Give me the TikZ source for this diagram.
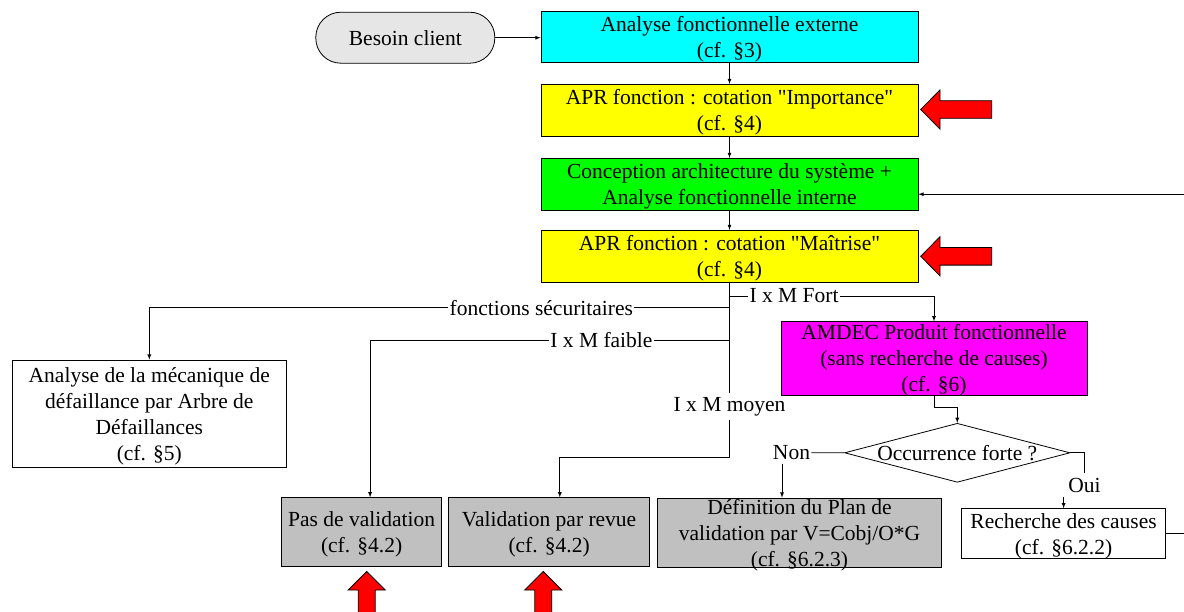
\documentclass[tikz,border=0pt]{standalone}
\usepackage{fontspec}
\setmainfont{Liberation Serif}
\usepackage{tikz}
\usetikzlibrary{arrows,shapes.geometric}

\definecolor{cyanvif}{RGB}{0,255,255}
\definecolor{jaune}{RGB}{255,255,0}
\definecolor{vert}{RGB}{0,255,0}
\definecolor{rose}{RGB}{255,0,255}
\definecolor{rouge}{RGB}{255,0,0}
\definecolor{grisclair}{RGB}{230,230,230}
\definecolor{gris}{RGB}{192,192,192}

\tikzset{
  etape/.style={draw, line width=0.8pt, align=center, inner sep=0pt, text depth=0pt},
  decision/.style={diamond, draw, line width=0.8pt, inner sep=0pt, minimum width=225.4pt, minimum height=59pt},
  lbl/.style={inner xsep=1pt, inner ysep=4pt},
  fleche/.style={fill=rouge, draw=black, line width=0.8pt},
}

\begin{document}
\begin{tikzpicture}[x=1pt, y=-1pt, >=latex, line width=0.8pt, font=\fontsize{21.5}{26}\selectfont]
\path[use as bounding box, clip] (0,0) rectangle (1184,611);

% etapes
\node[etape, fill=grisclair, rounded corners=25pt, minimum width=179pt, minimum height=51pt] (besoin) at (405.3,37.7) {Besoin client};
\node[etape, fill=cyanvif, minimum width=377pt, minimum height=51.3pt] (afe) at (729.5,36.7) {Analyse fonctionnelle externe\\(cf. §3)};
\node[etape, fill=jaune, minimum width=377pt, minimum height=51.7pt] (aprI) at (729.5,110.2) {APR fonction : cotation \textquotedbl Importance\textquotedbl\\(cf. §4)};
\node[etape, fill=vert, minimum width=377pt, minimum height=51.7pt] (conc) at (729.5,184.2) {Conception architecture du système +\\Analyse fonctionnelle interne};
\node[etape, fill=jaune, minimum width=377pt, minimum height=51.7pt] (aprM) at (729.5,256.2) {APR fonction : cotation \textquotedbl Maîtrise\textquotedbl\\(cf. §4)};
\node[etape, fill=white, minimum width=273.5pt, minimum height=107.7pt] (adf) at (149.3,413.9) {Analyse de la mécanique de\\défaillance par Arbre de\\Défaillances\\(cf. §5)};
\node[etape, fill=gris, minimum width=159.8pt, minimum height=68.3pt] (pasval) at (361.6,531.9) {Pas de validation\\(cf. §4.2)};
\node[etape, fill=gris, minimum width=200.8pt, minimum height=68.3pt] (valrev) at (549.1,531.9) {Validation par revue\\(cf. §4.2)};
\node[etape, fill=rose, minimum width=306pt, minimum height=73.3pt] (amdec) at (934,358.4) {AMDEC Produit fonctionnelle\\(sans recherche de causes)\\(cf. §6)};
\node[decision] (occ) at (957.3,452.8) {\makebox[0pt]{Occurrence forte ?}};
\node[etape, fill=gris, minimum width=284pt, minimum height=69.3pt] (defplan) at (799.5,532.7) {Définition du Plan de\\validation par V=Cobj/O*G\\(cf. §6.2.3)};
\node[etape, fill=white, minimum width=204pt, minimum height=50pt] (rech) at (1063.6,533.7) {Recherche des causes\\(cf. §6.2.2)};

% libelles
\node[lbl] (fort) at (794,296) {I x M Fort};
\node[lbl] (secu) at (541.3,307.7) {fonctions sécuritaires};
\node[lbl] (faible) at (601.4,340.3) {I x M faible};
\node[lbl] (moyen) at (729.5,406.7) {I x M moyen};
\node[lbl] (non) at (791.5,452.7) {Non};
\node[lbl] (oui) at (1084.5,485) {Oui};

% liaisons
\draw[->] (besoin.east) -- (besoin.east -| afe.west);
\draw[->] (afe) -- (aprI);
\draw[->] (aprI) -- (conc);
\draw[->] (conc) -- (aprM);
\draw (aprM) -- (moyen);
\draw (fort.west) -- (fort.west -| aprM.south);
\draw[->] (fort.east) -| (amdec.north);
\draw (secu.east) -- (secu.east -| aprM.south);
\draw[->] (secu.west) -| (adf.north);
\draw (faible.east) -- (faible.east -| aprM.south);
\draw[->] (faible.west) -| ([xshift=8.5pt]pasval.north);
\draw[->] (moyen) |- ([xshift=10.7pt,yshift=40.4pt]valrev.north) -- ([xshift=10.7pt]valrev.north);
\draw[->] (amdec.south) -- ++(0,11.7) -| (occ.north);
\draw (occ.west) -- (non.east);
\draw[->] ([xshift=-9.5pt]non.south) -- ([xshift=-9.5pt]non.south |- defplan.north);
\draw (occ.east) -| (oui.north);
\draw[->] (oui.south -| rech.north) -- (rech.north);
\draw[->] (rech.east) -- ++(40,0) |- ([yshift=-10pt]conc.east);

% fleches rouges
\foreach \y in {109.5,256.3}
  \draw[fleche] (920.7,\y) -- ++(19.3,-19.6) -- ++(0,10.8) -- ++(51.7,0) -- ++(0,17.6) -- ++(-51.7,0) -- ++(0,10.8) -- cycle;
\foreach \x in {366.7,543.3}
  \draw[fleche] (\x,571.5) -- ++(18.5,18.5) -- ++(-10,0) -- ++(0,30) -- ++(-17,0) -- ++(0,-30) -- ++(-10,0) -- cycle;
\end{tikzpicture}
\end{document}
